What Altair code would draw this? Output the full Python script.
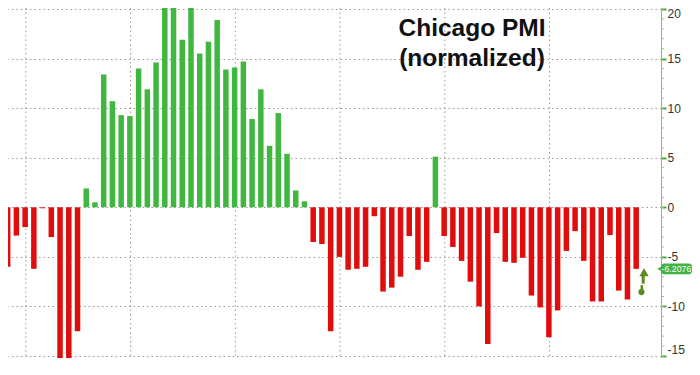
import altair as alt
import pandas as pd

# Monthly normalized Chicago PMI readings
values = [
    -6.0, -2.85, -2.0, -6.2, -0.1, -3.0, -15.4, -17.0, -12.5, 1.9,
    0.5, 13.4, 10.7, 9.3, 9.2, 14.0, 11.9, 14.6, 20.3, 21.5,
    16.9, 21.5, 15.5, 16.7, 18.9, 13.9, 14.1, 14.7, 8.9, 11.9,
    6.2, 9.5, 5.4, 1.7, 0.6, -3.5, -3.7, -12.5, -5.0, -6.3,
    -6.2, -6.0, -0.9, -8.5, -8.1, -7.0, -2.9, -6.3, -5.5, 5.1,
    -2.9, -4.0, -5.4, -7.5, -10.0, -13.8, -2.6, -5.5, -5.6, -5.1,
    -8.9, -10.1, -13.1, -10.4, -4.4, -2.4, -5.4, -9.5, -9.5, -2.8,
    -8.4, -9.3, -6.2076,
]
y_ticks = [-15, -10, -5, 0, 5, 10, 15, 20]
minor_ticks = list(range(-15, 21))
x_grid = [2.08, 14.08, 26.08, 38.08, 50.08, 62.08]
title_lines = ["Chicago PMI", "(normalized)"]
last_label = "-6.2076"

GREEN = "#40b840"
RED = "#e00d0d"
ARROW = "#5b8a1e"

W, H = 653, 350
xdom = [0.61, 74.27]
ydom = [-15.2, 20.1]

df = pd.DataFrame({"i": list(range(len(values))), "v": values})
df["sign"] = ["pos" if v >= 0 else "neg" for v in values]

xs = alt.Scale(domain=xdom, nice=False, zero=False)
ys = alt.Scale(domain=ydom, nice=False, zero=False)

yaxis = alt.Axis(
    orient="right", values=y_ticks, grid=True, gridColor="#9a9a9a",
    gridDash=[1.5, 3], gridWidth=1, domainColor="#7cc46c", domainWidth=1,
    tickColor="#4aa83a", tickSize=5, tickWidth=2, labelColor="#333333",
    labelFontSize=12, labelFont="Liberation Sans", labelPadding=1,
    labelFlush=2, labelExpr="datum.value + ''", title=None,
)


def Y(field):
    return alt.Y(field, type="quantitative", scale=ys, axis=yaxis)


def X(field):
    return alt.X(field, type="quantitative", scale=xs, axis=None)


bars = alt.Chart(df).mark_bar(size=5.5, clip=True).encode(
    x=X("i"),
    y=Y("v"),
    y2=alt.datum(0),
    color=alt.Color("sign:N", scale=alt.Scale(domain=["pos", "neg"], range=[GREEN, RED]), legend=None),
)

vgrid = alt.Chart(pd.DataFrame({"g": x_grid})).mark_rule(
    color="#9a9a9a", strokeDash=[1.5, 3], strokeWidth=1
).encode(x=X("g"))

minor = alt.Chart(pd.DataFrame({"m": minor_ticks})).mark_rule(
    color="#8fcf80", strokeWidth=1
).encode(y=Y("m"), x=alt.value(W), x2=alt.value(W + 3))

t1 = alt.Chart(pd.DataFrame({"t": [title_lines[0]]})).mark_text(
    font="Liberation Sans", fontWeight="bold", fontSize=24.5,
    color="#111111", align="center", baseline="alphabetic",
).encode(text="t:N", x=alt.value(464), y=alt.value(28))
t2 = alt.Chart(pd.DataFrame({"t": [title_lines[1]]})).mark_text(
    font="Liberation Sans", fontWeight="bold", fontSize=24.5,
    color="#111111", align="center", baseline="alphabetic",
).encode(text="t:N", x=alt.value(464), y=alt.value(58))

# last-value tag on the axis
last = values[-1]
tag_df = pd.DataFrame({"v": [last], "lo": [last - 0.55], "hi": [last + 0.55], "t": [last_label]})
tag_rect = alt.Chart(tag_df).mark_rect(color="#43b343", cornerRadius=3).encode(
    y=Y("lo"), y2="hi:Q", x=alt.value(653), x2=alt.value(684),
)
tag_point = alt.Chart(tag_df).mark_point(
    shape="triangle-left", filled=True, color="#43b343", size=40, opacity=1
).encode(y=Y("v"), x=alt.value(652))
tag_text = alt.Chart(tag_df).mark_text(
    color="white", fontSize=8.8, font="Liberation Sans", align="left", baseline="middle"
).encode(y=Y("v"), x=alt.value(653.5), text="t:N")

# up-arrow marker below the last bar
head = alt.Chart(pd.DataFrame({"x": [72.9], "y": [-6.55]})).mark_point(
    shape="triangle-up", filled=True, color=ARROW, size=85, opacity=1
).encode(x=X("x"), y=Y("y"))
shaft = alt.Chart(pd.DataFrame({"x": [72.8], "y": [-6.9], "y2": [-7.7]})).mark_rule(
    color=ARROW, strokeWidth=3
).encode(x=X("x"), y=Y("y"), y2="y2:Q")
stem = alt.Chart(pd.DataFrame({"x": [72.65], "y": [-7.85], "y2": [-8.4]})).mark_rule(
    color=ARROW, strokeWidth=2.5
).encode(x=X("x"), y=Y("y"), y2="y2:Q")
ball = alt.Chart(pd.DataFrame({"x": [72.6], "y": [-8.55]})).mark_point(
    shape="circle", filled=True, color=ARROW, size=38, opacity=1
).encode(x=X("x"), y=Y("y"))

chart = alt.layer(
    vgrid, bars, minor, t1, t2, tag_rect, tag_point, tag_text, head, shaft, stem, ball
).properties(
    width=W, height=H, background="white",
    autosize=alt.AutoSizeParams(type="none"),
    padding={"left": 0, "top": 0, "right": 31, "bottom": 0},
).configure_view(stroke=None)

chart.save("out.html", embed_options={"renderer": "svg", "actions": False})
